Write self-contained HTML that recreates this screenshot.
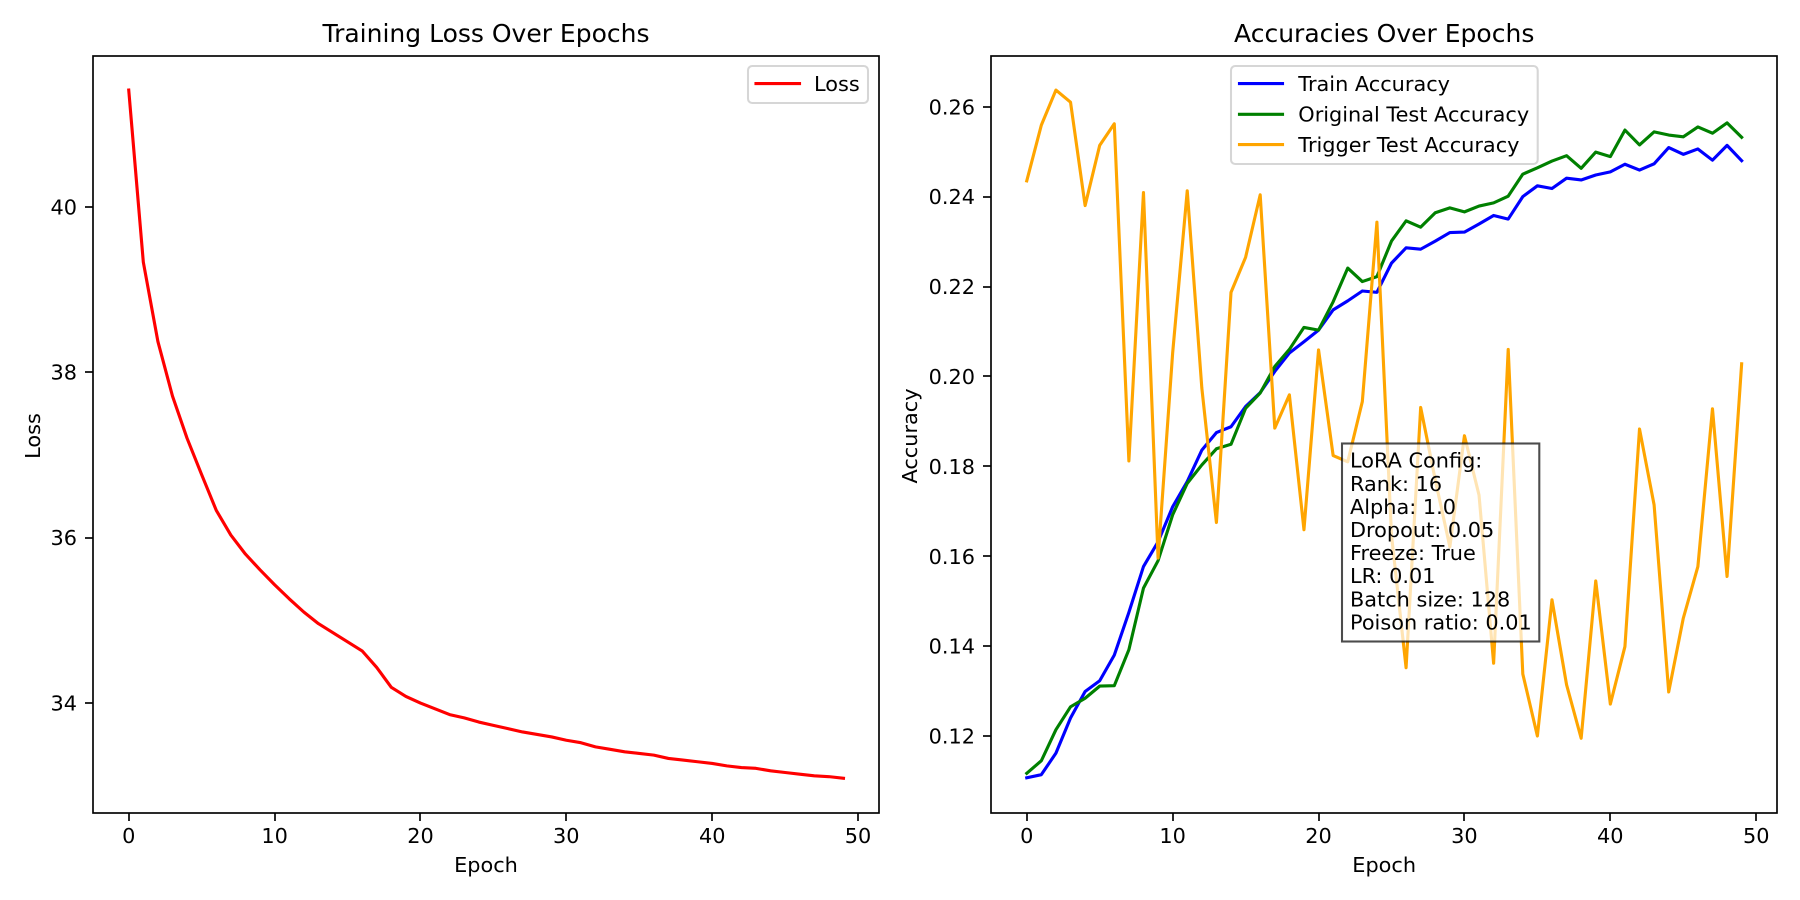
<!DOCTYPE html>
<html lang="en">
<head>
<meta charset="utf-8">
<title>Training Loss and Accuracies Over Epochs</title>
<style>
html,body{margin:0;padding:0;background:#fff;}
svg{display:block;}
text{font-family:"DejaVu Sans","Liberation Sans",sans-serif;fill:#000;font-size:20.83px;}
.title{font-size:25px;text-anchor:middle;}
.mid{text-anchor:middle;}
</style>
</head>
<body>
<svg id="figure" xmlns="http://www.w3.org/2000/svg" width="1800" height="900" viewBox="0 0 1800 900">
  <rect x="0" y="0" width="1800" height="900" fill="#fff"/>

  <g id="loss-panel">
    <g id="loss-marks"></g>
    <g id="loss-axes"></g>
    <text class="title" x="486" y="42">Training Loss Over Epochs</text>
    <text class="mid" x="486" y="872">Epoch</text>
    <text class="mid" transform="translate(40 436) rotate(-90)">Loss</text>
    <g>
      <rect x="748" y="66" width="120" height="37" rx="4.2" ry="4.2" fill="#fff" fill-opacity="0.8" stroke="#ccc" stroke-opacity="0.8" stroke-width="2.08"/>
      <line x1="756" y1="83.5" x2="799.5" y2="83.5" stroke="#ff0000" stroke-width="3.125" stroke-linecap="square"/>
      <text x="814" y="91">Loss</text>
    </g>
  </g>

  <g id="acc-panel">
    <g id="acc-marks"></g>
    <g>
      <rect x="1342" y="443.5" width="197.3" height="198" fill="#fff" fill-opacity="0.7" stroke="#000" stroke-opacity="0.7" stroke-width="2.08"/>
      <text x="1350" y="467.7">LoRA Config:</text>
      <text x="1350" y="490.8">Rank: 16</text>
      <text x="1350" y="513.9">Alpha: 1.0</text>
      <text x="1350" y="537">Dropout: 0.05</text>
      <text x="1350" y="560.1">Freeze: True</text>
      <text x="1350" y="583.2">LR: 0.01</text>
      <text x="1350" y="606.3">Batch size: 128</text>
      <text x="1350" y="629.4">Poison ratio: 0.01</text>
    </g>
    <g id="acc-axes"></g>
    <text class="title" x="1384.2" y="42">Accuracies Over Epochs</text>
    <text class="mid" x="1384.2" y="872">Epoch</text>
    <text class="mid" transform="translate(917 436) rotate(-90)">Accuracy</text>
    <g>
      <rect x="1231" y="66" width="306.7" height="98" rx="4.2" ry="4.2" fill="#fff" fill-opacity="0.8" stroke="#ccc" stroke-opacity="0.8" stroke-width="2.08"/>
      <line x1="1239.5" y1="83.5" x2="1282.5" y2="83.5" stroke="#0000ff" stroke-width="3.125" stroke-linecap="square"/>
      <text x="1298.3" y="91">Train Accuracy</text>
      <line x1="1239.5" y1="114.3" x2="1282.5" y2="114.3" stroke="#008000" stroke-width="3.125" stroke-linecap="square"/>
      <text x="1298.3" y="121.5">Original Test Accuracy</text>
      <line x1="1239.5" y1="144.5" x2="1282.5" y2="144.5" stroke="#ffa500" stroke-width="3.125" stroke-linecap="square"/>
      <text x="1298.3" y="152">Trigger Test Accuracy</text>
    </g>
  </g>
</svg>

<script>
var lossValues = [41.41,39.33,38.37,37.71,37.2,36.76,36.33,36.03,35.8,35.61,35.43,35.26,35.1,34.96,34.85,34.74,34.63,34.43,34.19,34.08,34.0,33.93,33.86,33.82,33.77,33.73,33.69,33.65,33.62,33.59,33.55,33.52,33.47,33.44,33.41,33.39,33.37,33.33,33.31,33.29,33.27,33.24,33.22,33.21,33.18,33.16,33.14,33.12,33.11,33.09];
var trainAccuracy = [0.1107,0.1114,0.1162,0.1240,0.1299,0.1323,0.1380,0.1475,0.1577,0.1632,0.1710,0.1766,0.1836,0.1875,0.1888,0.1933,0.1964,0.2011,0.2052,0.2077,0.2103,0.2148,0.2168,0.2190,0.2187,0.2252,0.2286,0.2283,0.2301,0.2320,0.2321,0.2339,0.2358,0.2350,0.2400,0.2424,0.2418,0.2441,0.2437,0.2448,0.2455,0.2472,0.2459,0.2473,0.2509,0.2494,0.2506,0.2481,0.2514,0.2480];
var originalTestAccuracy = [0.1117,0.1145,0.1214,0.1265,0.1284,0.1311,0.1312,0.1392,0.1529,0.1590,0.1692,0.1762,0.1803,0.1839,0.1849,0.1929,0.1963,0.2022,0.2060,0.2109,0.2103,0.2166,0.2241,0.2211,0.2222,0.2301,0.2346,0.2332,0.2364,0.2375,0.2366,0.2379,0.2386,0.2401,0.2450,0.2464,0.2479,0.2491,0.2463,0.2499,0.2489,0.2548,0.2515,0.2544,0.2537,0.2533,0.2555,0.2541,0.2564,0.2532];
var triggerTestAccuracy = [0.2435,0.2559,0.2637,0.2610,0.2380,0.2514,0.2562,0.1812,0.2409,0.1596,0.2052,0.2413,0.1974,0.1675,0.2187,0.2265,0.2404,0.1885,0.1959,0.1659,0.2059,0.1824,0.1810,0.1944,0.2343,0.1647,0.1352,0.1931,0.1770,0.1621,0.1868,0.1736,0.1362,0.2060,0.1338,0.1200,0.1503,0.1314,0.1195,0.1545,0.1271,0.1399,0.1883,0.1714,0.1298,0.1462,0.1577,0.1928,0.1555,0.2028];
var epochTicks = [0,10,20,30,40,50];
var lossTicks = [34,36,38,40];
var lossTickLabels = ["34","36","38","40"];
var accuracyTicks = [0.12,0.14,0.16,0.18,0.20,0.22,0.24,0.26];
var accuracyTickLabels = ["0.12","0.14","0.16","0.18","0.20","0.22","0.24","0.26"];

var SVG_NS = "http://www.w3.org/2000/svg";
var TOP = 55.5, BOTTOM = 812.7;
var X_MIN = -2.45, X_MAX = 51.45;

function scale(d0, d1, r0, r1) {
  return function (v) { return r0 + (v - d0) * (r1 - r0) / (d1 - d0); };
}
var lossX = scale(X_MIN, X_MAX, 93, 879.2);
var lossY = scale(32.674, 41.828, BOTTOM, TOP);
var accX = scale(X_MIN, X_MAX, 991, 1777.4);
var accY = scale(0.10294, 0.27139, BOTTOM, TOP);

function node(tag, parent) {
  var el = document.createElementNS(SVG_NS, tag);
  parent.appendChild(el);
  return el;
}

function drawLine(parent, values, xFn, yFn, color, name) {
  var pts = values.map(function (v, i) { return xFn(i).toFixed(2) + "," + yFn(v).toFixed(2); }).join(" ");
  var el = node("polyline", parent);
  
  
  el.setAttribute("points", pts);
  el.setAttribute("fill", "none");
  el.setAttribute("stroke", color);
  el.setAttribute("stroke-width", "3.125");
  el.setAttribute("stroke-linejoin", "round");
  el.setAttribute("stroke-linecap", "square");
}

function drawAxes(parent, prefix, xFn, yFn, left, right, yTicks, yLabels) {
  var frame = node("rect", parent);
  
  
  frame.setAttribute("x", Math.round(left));
  frame.setAttribute("y", Math.round(TOP));
  frame.setAttribute("width", Math.round(right) - Math.round(left));
  frame.setAttribute("height", Math.round(BOTTOM) - Math.round(TOP));
  frame.setAttribute("fill", "none");
  frame.setAttribute("stroke", "#000");
  frame.setAttribute("stroke-width", "1.67");

  epochTicks.forEach(function (t) {
    var x = Math.round(xFn(t));
    var tick = node("line", parent);
    
    
    tick.setAttribute("x1", x);
    tick.setAttribute("x2", x);
    tick.setAttribute("y1", Math.round(BOTTOM));
    tick.setAttribute("y2", Math.round(BOTTOM) + 8);
    tick.setAttribute("stroke", "#000");
    tick.setAttribute("stroke-width", "1.67");
    var label = node("text", parent);
    
    
    label.setAttribute("x", xFn(t).toFixed(1));
    label.setAttribute("y", "843");
    label.setAttribute("text-anchor", "middle");
    label.textContent = String(t);
  });

  yTicks.forEach(function (t, i) {
    var y = Math.round(yFn(t));
    var tick = node("line", parent);
    
    
    tick.setAttribute("x1", Math.round(left) - 8);
    tick.setAttribute("x2", Math.round(left));
    tick.setAttribute("y1", y);
    tick.setAttribute("y2", y);
    tick.setAttribute("stroke", "#000");
    tick.setAttribute("stroke-width", "1.67");
    var label = node("text", parent);
    
    
    label.setAttribute("x", (left - 16).toFixed(1));
    label.setAttribute("y", (yFn(t) + 7.6).toFixed(1));
    label.setAttribute("text-anchor", "end");
    label.textContent = yLabels[i];
  });
}

var lossMarks = document.getElementById("loss-marks");
var accMarks = document.getElementById("acc-marks");
drawLine(lossMarks, lossValues, lossX, lossY, "#ff0000", "loss-line");
drawLine(accMarks, trainAccuracy, accX, accY, "#0000ff", "train-accuracy-line");
drawLine(accMarks, originalTestAccuracy, accX, accY, "#008000", "original-test-accuracy-line");
drawLine(accMarks, triggerTestAccuracy, accX, accY, "#ffa500", "trigger-test-accuracy-line");
drawAxes(document.getElementById("loss-axes"), "loss", lossX, lossY, 93, 879.2, lossTicks, lossTickLabels);
drawAxes(document.getElementById("acc-axes"), "accuracy", accX, accY, 991, 1777.4, accuracyTicks, accuracyTickLabels);
</script>
</body>
</html>
